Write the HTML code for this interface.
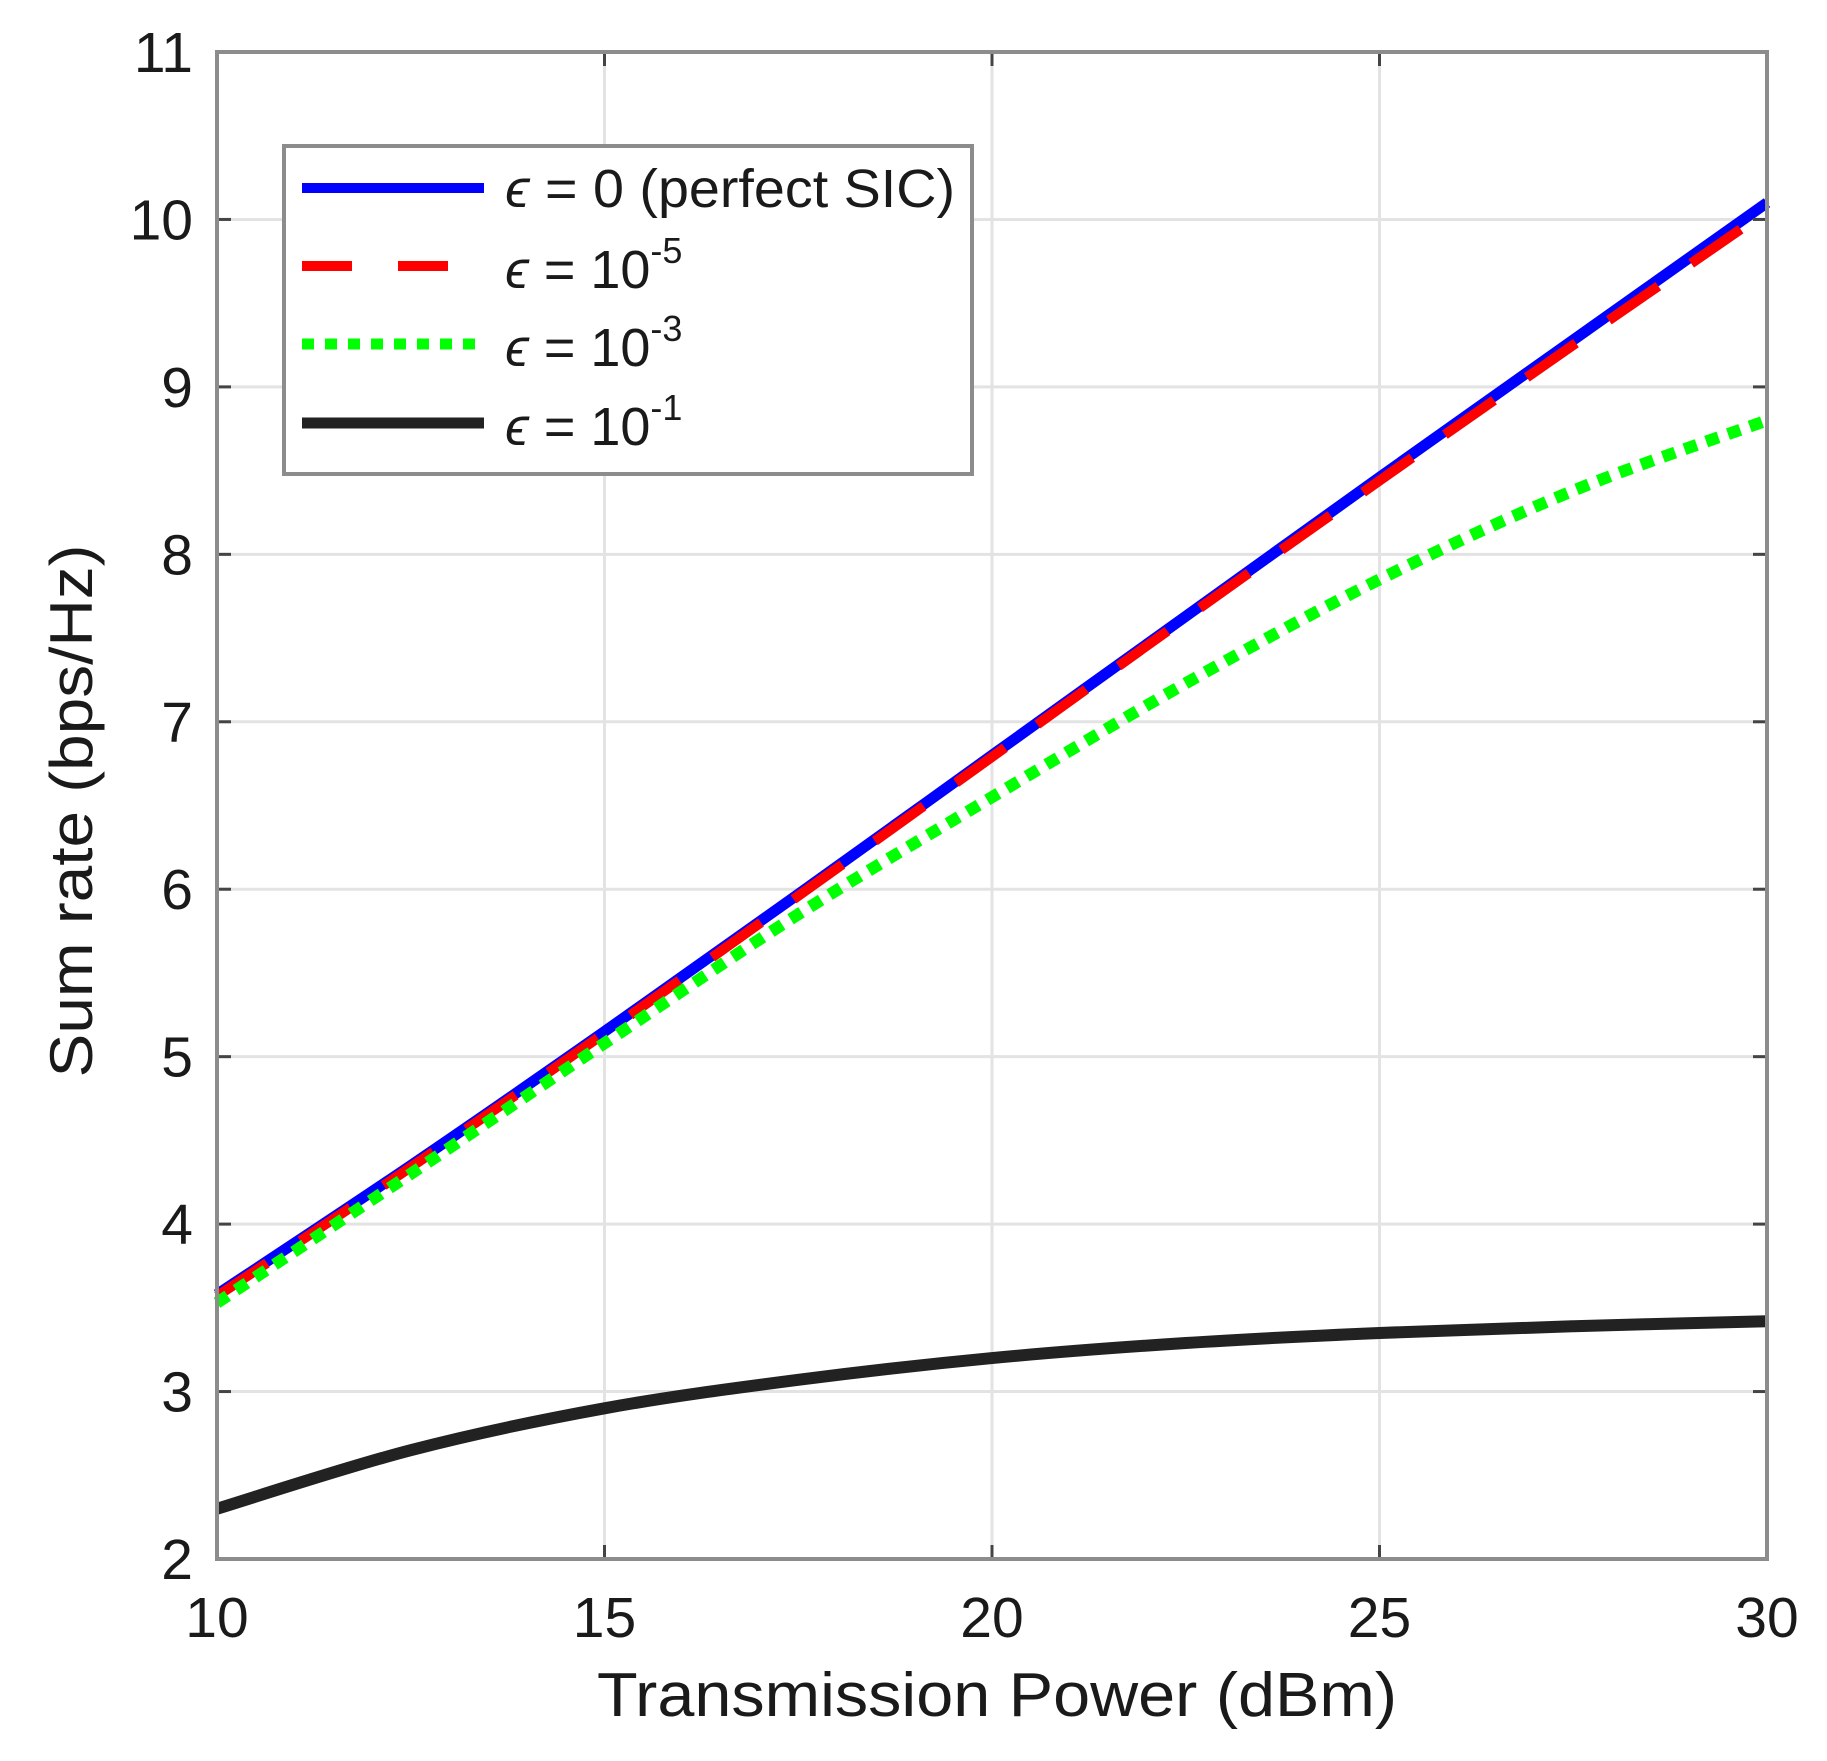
<!DOCTYPE html>
<html><head><meta charset="utf-8"><style>
html,body{margin:0;padding:0;background:#fff;}
svg{display:block;font-family:"Liberation Sans",Arial,sans-serif;}
</style></head><body>
<svg id="chart" width="1827" height="1761" viewBox="0 0 1827 1761" xmlns="http://www.w3.org/2000/svg">
<g id="grid"></g>
<g id="series"></g>
<g id="axes"></g>
<text x="997" y="1716" font-size="62" text-anchor="middle" fill="#1a1a1a" textLength="800" lengthAdjust="spacingAndGlyphs">Transmission Power (dBm)</text>
<text transform="translate(92,811) rotate(-90)" font-size="60" text-anchor="middle" fill="#1a1a1a" textLength="533" lengthAdjust="spacingAndGlyphs">Sum rate (bps/Hz)</text>
<g>
<rect x="284" y="146" width="688" height="328" fill="#fff" stroke="#8c8c8c" stroke-width="4"/>
<g>
<line x1="302" y1="188" x2="484" y2="188" stroke="#0000ff" stroke-width="10"/>
<text x="505" y="207" font-size="54" fill="#1a1a1a" textLength="450" lengthAdjust="spacingAndGlyphs"><tspan font-style="italic">ϵ</tspan> = 0 (perfect SIC)</text></g>
<g>
<line x1="302" y1="266" x2="484" y2="266" stroke="#ff0000" stroke-width="10" stroke-dasharray="50,46"/>
<text x="505" y="288" font-size="54" fill="#1a1a1a"><tspan font-style="italic">ϵ</tspan> = 10<tspan font-size="36" dy="-25">-5</tspan></text></g>
<g>
<line x1="302" y1="344" x2="484" y2="344" stroke="#00ff00" stroke-width="11" stroke-dasharray="12,11"/>
<text x="505" y="366" font-size="54" fill="#1a1a1a"><tspan font-style="italic">ϵ</tspan> = 10<tspan font-size="36" dy="-25">-3</tspan></text></g>
<g>
<line x1="302" y1="423" x2="484" y2="423" stroke="#222" stroke-width="11"/>
<text x="505" y="445" font-size="54" fill="#1a1a1a"><tspan font-style="italic">ϵ</tspan> = 10<tspan font-size="36" dy="-25">-1</tspan></text></g>
</g>
</svg>
<script>
const xValues = [10, 12.5, 15, 17.5, 20, 22.5, 25, 27.5, 30];
const perfectSic = [3.58, 4.35, 5.15, 5.97, 6.8, 7.63, 8.46, 9.28, 10.1];
const eps1e5 = [3.57, 4.34, 5.14, 5.96, 6.79, 7.62, 8.44, 9.25, 10.05];
const eps1e3 = [3.53, 4.3, 5.08, 5.85, 6.55, 7.23, 7.85, 8.38, 8.8];
const eps1e1 = [2.3, 2.65, 2.9, 3.07, 3.2, 3.29, 3.35, 3.39, 3.42];
const xTicks = [10, 15, 20, 25, 30];
const yTicks = [2, 3, 4, 5, 6, 7, 8, 9, 10, 11];

const L=217,R=1767,T=52,B=1559;
const xMin=10,xMax=30,yMin=2,yMax=11;
function sx(v){return L+(v-xMin)/(xMax-xMin)*(R-L);}
function sy(v){return B-(v-yMin)/(yMax-yMin)*(B-T);}
const NS='http://www.w3.org/2000/svg';
function mk(tag,attrs,parent){const e=document.createElementNS(NS,tag);for(const k in attrs)e.setAttribute(k,attrs[k]);parent.appendChild(e);return e;}
const grid=document.getElementById('grid'),axes=document.getElementById('axes'),series=document.getElementById('series');

xTicks.forEach(v=>{
  const g=mk('line',{x1:sx(v),y1:T,x2:sx(v),y2:B,stroke:'#e3e3e3','stroke-width':3},grid);
  
  
  const t=mk('line',{x1:sx(v),y1:B,x2:sx(v),y2:B-14,stroke:'#444','stroke-width':3},axes);
  
  
  const t2=mk('line',{x1:sx(v),y1:T,x2:sx(v),y2:T+14,stroke:'#444','stroke-width':3},axes);
  
  
  const lb=mk('text',{x:sx(v),y:B+78,'font-size':57,'text-anchor':'middle',fill:'#1a1a1a'},axes);
  lb.textContent=v;
  
  
});
yTicks.forEach(v=>{
  const g=mk('line',{x1:L,y1:sy(v),x2:R,y2:sy(v),stroke:'#e3e3e3','stroke-width':3},grid);
  
  
  const t=mk('line',{x1:L,y1:sy(v),x2:L+14,y2:sy(v),stroke:'#444','stroke-width':3},axes);
  
  
  const t2=mk('line',{x1:R,y1:sy(v),x2:R-14,y2:sy(v),stroke:'#444','stroke-width':3},axes);
  
  
  const lb=mk('text',{x:193,y:sy(v)+20,'font-size':57,'text-anchor':'end',fill:'#1a1a1a'},axes);
  lb.textContent=v;
  
  
});
const frame=mk('rect',{x:L,y:T,width:R-L,height:B-T,fill:'none',stroke:'#8c8c8c','stroke-width':4},axes);



function pathFor(ys){
  const p=xValues.map((x,i)=>[sx(x),sy(ys[i])]);
  let d='M'+p[0][0]+','+p[0][1];
  for(let i=0;i<p.length-1;i++){
    const p0=p[Math.max(0,i-1)],p1=p[i],p2=p[i+1],p3=p[Math.min(p.length-1,i+2)];
    const c1x=p1[0]+(p2[0]-p0[0])/6,c1y=p1[1]+(p2[1]-p0[1])/6;
    const c2x=p2[0]-(p3[0]-p1[0])/6,c2y=p2[1]-(p3[1]-p1[1])/6;
    d+=' C'+c1x+','+c1y+' '+c2x+','+c2y+' '+p2[0]+','+p2[1];
  }
  return d;
}
const s1=mk('path',{d:pathFor(perfectSic),fill:'none',stroke:'#0000ff','stroke-width':11},series);


const s2=mk('path',{d:pathFor(eps1e5),fill:'none',stroke:'#ff0000','stroke-width':10,'stroke-dasharray':'60,40'},series);


const s3=mk('path',{d:pathFor(eps1e3),fill:'none',stroke:'#00ff00','stroke-width':12,'stroke-dasharray':'13,10'},series);


const s4=mk('path',{d:pathFor(eps1e1),fill:'none',stroke:'#222222','stroke-width':12},series);


</script>
</body></html>
